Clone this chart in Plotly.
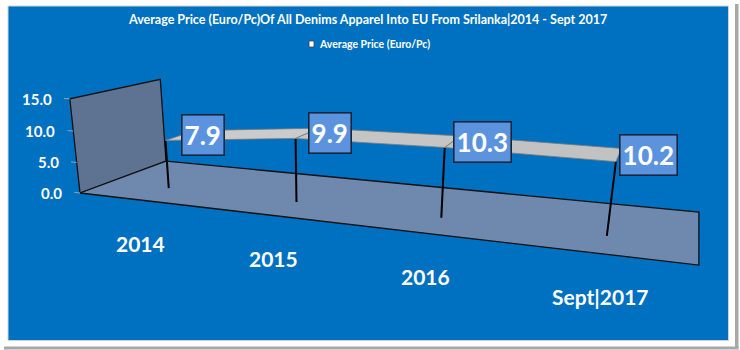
import plotly.graph_objects as go

# ---- chart data ----
categories = ["2014", "2015", "2016", "Sept|2017"]
avg_price = [7.9, 9.9, 10.3, 10.2]
y_ticks = [0, 5, 10, 15]
y_tick_labels = ["0.0", "5.0", "10.0", "15.0"]
series_name = "Average Price (Euro/Pc)"
title_text = "Average Price (Euro/Pc)Of All Denims Apparel Into EU From Srilanka|2014 - Sept 2017"

Y_MAX = 15.0
W, H = 740, 350
FONT = "Lato"

# ---- 3-D perspective camera ----
# Screen point of the floor's front-left corner, vanishing points of the
# category (x), value (y) and depth (z) directions, and their weights.
ORIGIN = (80.0, 193.0)
VANISH = {"x": (-1869.0, -34.0), "y": (330.0, 2500.0), "z": (699.0, -37.0)}
WEIGHT = {"x": -0.241, "y": -0.0392, "z": 0.1614}

RIBBON_FRONT, RIBBON_BACK, RIBBON_MID = 0.32, 0.68, 0.5


def project(u, v, w):
    """u: 0..1 along the category axis, v: value, w: depth 0 (front)..1 (back)."""
    a = WEIGHT["x"] * u
    b = WEIGHT["y"] * v / Y_MAX
    c = WEIGHT["z"] * w
    den = 1.0 + a + b + c
    px = (a * VANISH["x"][0] + b * VANISH["y"][0] + c * VANISH["z"][0] + ORIGIN[0]) / den
    py = (a * VANISH["x"][1] + b * VANISH["y"][1] + c * VANISH["z"][1] + ORIGIN[1]) / den
    return px, py


def polygon(points):
    xs, ys = [], []
    for p in points:
        x, y = project(*p)
        xs.append(x)
        ys.append(y)
    xs.append(xs[0])
    ys.append(ys[0])
    return xs, ys


n = len(categories)
cat_u = [(i + 0.5) / n for i in range(n)]

fig = go.Figure()

# side wall
wx, wy = polygon([(0, 0, 0), (0, 0, 1), (0, Y_MAX, 1), (0, Y_MAX, 0)])
fig.add_trace(go.Scatter(x=wx, y=wy, mode="lines", fill="toself",
                         fillcolor="#5E7292", line=dict(color="#111111", width=1.3),
                         hoverinfo="skip", showlegend=False))

# floor
fx, fy = polygon([(0, 0, 0), (1, 0, 0), (1, 0, 1), (0, 0, 1)])
fig.add_trace(go.Scatter(x=fx, y=fy, mode="lines", fill="toself",
                         fillcolor="#6E88AE", line=dict(color="#111111", width=1.3),
                         hoverinfo="skip", showlegend=False))

# value-axis tick marks on the wall's front edge
tx, ty = [], []
for t in y_ticks:
    x0, y0 = project(0, t, 0)
    x1, y1 = project(-0.012, t, 0)
    tx += [x0, x1, None]
    ty += [y0, y1, None]
fig.add_trace(go.Scatter(x=tx, y=ty, mode="lines", line=dict(color="#8EA3C0", width=1),
                         hoverinfo="skip", showlegend=False))

# drop lines from the ribbon to the floor
dx, dy = [], []
for u, v in zip(cat_u, avg_price):
    x0, y0 = project(u, v, RIBBON_FRONT)
    x1, y1 = project(u, 0, RIBBON_FRONT)
    dx += [x0, x1, None]
    dy += [y0, y1, None]
fig.add_trace(go.Scatter(x=dx, y=dy, mode="lines", line=dict(color="#000000", width=2),
                         hoverinfo="skip", showlegend=False))

# 3-D line ribbon, one face per segment
seg_colors = ["#CBCBCB", "#C5C5C5", "#C2C2C2"]
for i in range(n - 1):
    rx, ry = polygon([
        (cat_u[i], avg_price[i], RIBBON_FRONT),
        (cat_u[i + 1], avg_price[i + 1], RIBBON_FRONT),
        (cat_u[i + 1], avg_price[i + 1], RIBBON_BACK),
        (cat_u[i], avg_price[i], RIBBON_BACK),
    ])
    fig.add_trace(go.Scatter(x=rx, y=ry, mode="lines", fill="toself",
                             fillcolor=seg_colors[i % len(seg_colors)],
                             line=dict(color="#7A7A7A", width=0.8),
                             hoverinfo="skip", showlegend=False))

annotations = []

# data labels
for u, v in zip(cat_u, avg_price):
    x, y = project(u, v, RIBBON_MID)
    annotations.append(dict(
        x=x, y=y, xref="x", yref="y", text=f"{v:.1f}", showarrow=False,
        xanchor="left", yanchor="middle", height=35, borderpad=2,
        bgcolor="#5C93DF", bordercolor="#17263A", borderwidth=1.6,
        font=dict(family=FONT, size=26, color="white", weight="bold")))

# category labels under the floor's front edge
for u, c in zip(cat_u, categories):
    x, y = project(u, 0, 0)
    annotations.append(dict(
        x=x, y=y, xref="x", yref="y", text=c, showarrow=False,
        xanchor="center", yanchor="middle", yshift=-43,
        font=dict(family=FONT, size=21, color="white", weight="bold")))

# value-axis labels
for t, lab in zip(y_ticks, y_tick_labels):
    x, y = project(0, t, 0)
    annotations.append(dict(
        x=x, y=y, xref="x", yref="y", text=lab, showarrow=False,
        xanchor="right", yanchor="middle", xshift=-16,
        font=dict(family=FONT, size=15, color="white", weight="bold")))

# title
annotations.append(dict(
    x=367.5, y=19, xref="x", yref="y", text=title_text, showarrow=False,
    xanchor="center", yanchor="middle",
    font=dict(family=FONT, size=12.5, color="white", weight="bold")))

# legend entry
annotations.append(dict(
    x=317, y=44, xref="x", yref="y", text=series_name, showarrow=False,
    xanchor="left", yanchor="middle",
    font=dict(family=FONT, size=10.5, color="white", weight="bold")))

shapes = [
    # blue chart area
    dict(type="rect", xref="x", yref="y", x0=8, y0=6, x1=728.5, y1=340.5,
         fillcolor="#0070C0", line=dict(color="#D2D2D2", width=1), layer="below"),
    # drop shadow of the frame
    dict(type="rect", xref="x", yref="y", x0=735, y0=4, x1=738.5, y1=349,
         fillcolor="#A8A8A8", line=dict(width=0), layer="below"),
    dict(type="rect", xref="x", yref="y", x0=4, y0=346.5, x1=738.5, y1=349.5,
         fillcolor="#A8A8A8", line=dict(width=0), layer="below"),
    # legend key
    dict(type="rect", xref="x", yref="y", x0=309, y0=41, x1=314, y1=47,
         fillcolor="#FFFFFF", line=dict(color="#404040", width=0.8)),
]

fig.update_layout(
    width=W, height=H,
    margin=dict(l=0, r=0, t=0, b=0),
    paper_bgcolor="#FFFFFF", plot_bgcolor="rgba(0,0,0,0)",
    xaxis=dict(range=[0, W], visible=False, fixedrange=True),
    yaxis=dict(range=[H, 0], visible=False, fixedrange=True),
    annotations=annotations, shapes=shapes,
    showlegend=False,
)

fig.write_html("out.html")
